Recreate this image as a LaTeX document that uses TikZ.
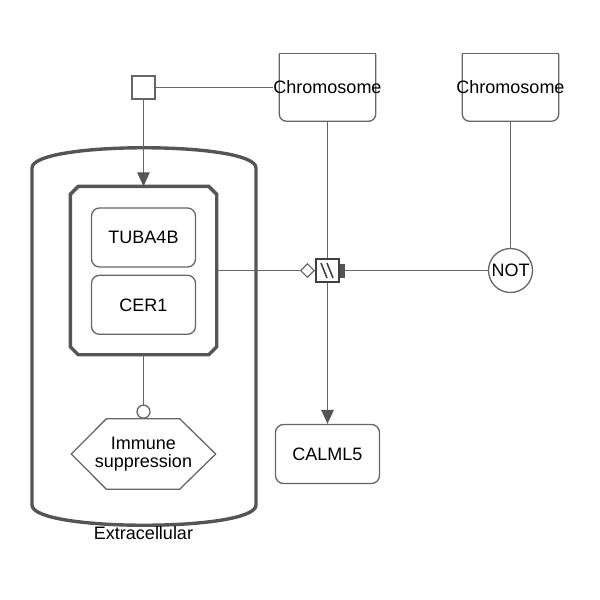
\documentclass[tikz,border=0pt]{standalone}
\usepackage{fontspec}
\setmainfont{Liberation Sans}
\usetikzlibrary{arrows.meta,positioning,shapes.geometric}
\definecolor{edgegray}{HTML}{666666}
\definecolor{wallgray}{HTML}{555555}
\tikzset{
    edge/.style={draw=edgegray, line width=1.3pt},
    arrowedge/.style={edge, -{Triangle[length=14pt, width=12.5pt, color=wallgray]}},
    boxline/.style={draw=edgegray, line width=1.3pt},
    wall/.style={draw=wallgray, line width=3.4pt},
    cplx/.style={minimum width=143pt, minimum height=165pt, inner sep=0pt, outer sep=1.7pt},
    macro/.style={boxline, rounded corners=8pt, minimum width=104pt, minimum height=59pt, inner sep=0pt},
    gene/.style={minimum width=96pt, minimum height=67pt, inner sep=0pt},
    pheno/.style={minimum width=144pt, minimum height=70pt, inner sep=0pt, align=center},
    catal/.style={circle, boxline, fill=white, minimum size=13pt, inner sep=0pt},
    proc/.style={boxline, fill=white, minimum size=23pt, inner sep=0pt},
    omit/.style={draw=black!75, line width=2pt, fill=white, minimum size=23pt, inner sep=0pt,
        path picture={
            \draw[line width=1.5pt] ([shift={(-6.5,-7.5)}]path picture bounding box.center) -- ++(6,15);
            \draw[line width=1.5pt] ([shift={(-0.5,-7.5)}]path picture bounding box.center) -- ++(6,15);
        }},
    modtip/.style={diamond, aspect=1, draw=edgegray, line width=1.2pt, fill=white,
        minimum width=14pt, minimum height=14pt, inner sep=0pt},
    bartip/.style={fill=wallgray, minimum width=5pt, minimum height=14pt, inner sep=0pt},
    logic/.style={circle, boxline, minimum size=44pt, inner sep=0pt}
}
\begin{document}
\begin{tikzpicture}[x=1pt, y=-1pt, font=\fontsize{18}{18}\selectfont]
        \useasboundingbox (0,0) rectangle (600,600);

        % compartment
        \draw[wall] (32,168) .. controls (32,141) and (256,141) .. (256,168)
            -- (256,505) .. controls (256,532) and (32,532) .. (32,505) -- cycle;
        \node (extra) at (143.5,533.5) {Extracellular};

        % complex and its members
        \node[cplx] (cmplx) at (143.5,270.5) {};
        \draw[wall] ([xshift=8pt]cmplx.north west) -- ([xshift=-8pt]cmplx.north east)
            -- ([yshift=-8pt]cmplx.north east) -- ([yshift=8pt]cmplx.south east)
            -- ([xshift=-8pt]cmplx.south east) -- ([xshift=8pt]cmplx.south west)
            -- ([yshift=8pt]cmplx.south west) -- ([yshift=-8pt]cmplx.north west) -- cycle;
        \node[macro] (tuba) at (143.5,237.5) {TUBA4B};
        \node[macro, below=7pt of tuba] (cer) {CER1};

        % phenotype
        \node[pheno] (immune) at (143.5,454) {Immune\\suppression};
        \draw[boxline] (immune.west) -- ([xshift=35pt]immune.north west) -- ([xshift=-36pt]immune.north east)
            -- (immune.east) -- ([xshift=-36pt]immune.south east) -- ([xshift=35pt]immune.south west) -- cycle;
        \node[catal, above=0pt of immune] (cat) {};

        \node[proc] (assoc) at (143.5,87.5) {};
        \node[gene] (chrA) at (327.5,87.5) {};
        \node[gene] (chrB) at (510.5,87.5) {};
        \foreach \g in {chrA,chrB}{
            \draw[boxline, rounded corners=7pt] (\g.north east) -- (\g.south east) -- (\g.south west) -- (\g.north west);
            \draw[boxline, line cap=rect] (\g.north west) -- (\g.north east);
        }
        \node[inner sep=0pt] (chrAtext) at (chrA) {Chromosome};
        \node[inner sep=0pt] (chrBtext) at (chrB) {Chromosome};

        \node[omit] (omitted) at (327.5,270.5) {};
        \node[modtip, left=0pt of omitted] (mod) {};
        \node[bartip, right=0pt of omitted] (stim) {};
        \node[logic] (notg) at (510.5,270.5) {NOT};
        \node[macro] (calml) at (327.5,454) {CALML5};

        % arcs
        \draw[edge] (assoc.east) -- (chrAtext.west);
        \draw[arrowedge] (assoc.south) -- (cmplx.north);
        \draw[edge] (chrA.south) -- (omitted.north);
        \draw[arrowedge] (omitted.south) -- (calml.north);
        \draw[edge] (cmplx.east) -- (mod.west);
        \draw[edge] (chrB.south) -- (notg.north);
        \draw[edge] (notg.west) -- (stim.east);
        \draw[edge] (cmplx.south) -- (cat.north);
    \end{tikzpicture}
\end{document}
